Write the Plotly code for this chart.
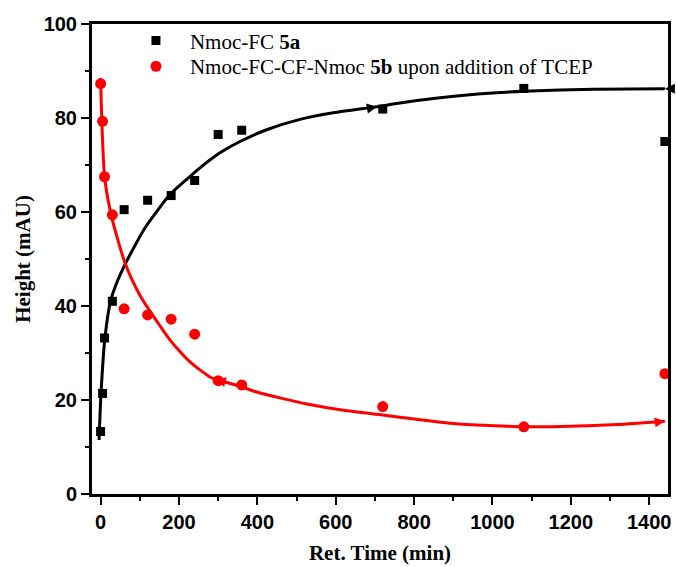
import plotly.graph_objects as go

# data (min, mAU)
t_pts = [0, 5, 10, 30, 60, 120, 180, 240, 300, 360, 720, 1080, 1440]
h_5a = [13.3, 21.4, 33.2, 41.0, 60.5, 62.5, 63.5, 66.7, 76.5, 77.4, 81.9, 86.3, 75.0]
h_5b = [87.3, 79.3, 67.5, 59.4, 39.4, 38.1, 37.2, 34.0, 24.1, 23.2, 18.6, 14.3, 25.6]

# trend curves (drawn in two pieces each, as in the original)
fit_a1_t = [-4, 1, 11, 26, 41, 62, 75, 113, 177, 219, 253.5, 304.6, 355.6, 423.8, 508.8, 593.9, 679, 705]
fit_a1_h = [11.5, 21.4, 33.2, 41.3, 44.9, 48.8, 50.9, 56.6, 63.7, 66.9, 69.4, 72.6, 75.0, 77.5, 79.7, 81.1, 82.1, 82.4]
fit_a2_t = [705, 764, 866, 1000, 1080, 1260, 1440]
fit_a2_h = [82.4, 83.2, 84.3, 85.3, 85.7, 86.1, 86.2]
fit_b1_t = [0, 3, 10, 26.3, 44.2, 62, 80, 100.3, 125.9, 151.4, 176.9, 202.4, 228, 253.5, 279, 294]
fit_b1_h = [88.5, 79.5, 67.5, 59.6, 54.0, 49.2, 45.6, 42.3, 38.9, 35.8, 32.8, 30.3, 28.1, 26.4, 24.9, 24.35]
fit_b2_t = [294, 356, 394, 460, 530, 620, 720, 900, 1080, 1200, 1320, 1440]
fit_b2_h = [24.35, 22.9, 21.8, 20.4, 19.1, 17.8, 16.8, 15.0, 14.3, 14.4, 14.8, 15.5]

fig = go.Figure()
for tt, hh, c in [(fit_a1_t, fit_a1_h, "black"), (fit_a2_t, fit_a2_h, "black"),
                  (fit_b1_t, fit_b1_h, "#ff0000"), (fit_b2_t, fit_b2_h, "#ff0000")]:
    fig.add_trace(go.Scatter(x=tt, y=hh, mode="lines",
                             line=dict(color=c, width=3, shape="spline", smoothing=0.6),
                             showlegend=False, hoverinfo="skip"))
fig.add_trace(go.Scatter(x=t_pts, y=h_5a, mode="markers", name="Nmoc-FC <b>5a</b>", legend="legend",
                         marker=dict(symbol="square", size=9, color="black")))
fig.add_trace(go.Scatter(x=t_pts, y=h_5b, mode="markers", name="Nmoc-FC-CF-Nmoc <b>5b</b> upon addition of TCEP",
                         legend="legend2", marker=dict(symbol="circle", size=11, color="#ff0000")))

# small arrowheads on the curves
arrows = [
    (685, 82.1, 705, 82.4, "black"),
    (1460, 86.2, 1440, 86.2, "black"),
    (314, 23.9, 294, 24.35, "#ff0000"),
    (1420, 15.3, 1440, 15.5, "#ff0000"),
]
for x0, y0, x1, y1, c in arrows:
    fig.add_annotation(x=x1, y=y1, ax=x0, ay=y0, xref="x", yref="y", axref="x", ayref="y",
                       showarrow=True, arrowhead=2, arrowsize=1, arrowwidth=2, arrowcolor=c, text="")

tickfont = dict(family="Liberation Sans, Arial", size=20, color="black", weight="bold")
titlefont = dict(family="Liberation Serif, Times New Roman", size=21, color="black")
legfont = dict(family="Liberation Serif, Times New Roman", size=21, color="black")

fig.update_layout(
    width=676, height=567,
    margin=dict(l=92, r=8, t=24, b=73),
    paper_bgcolor="white", plot_bgcolor="white",
    legend=dict(x=0.052, y=1.008, xanchor="left", yanchor="top", bgcolor="rgba(0,0,0,0)",
                itemwidth=58, font=legfont),
    legend2=dict(x=0.052, y=0.953, xanchor="left", yanchor="top", bgcolor="rgba(0,0,0,0)",
                 itemwidth=58, font=legfont),
    xaxis=dict(range=[-22, 1448], tickvals=[0, 200, 400, 600, 800, 1000, 1200, 1400],
               ticks="outside", ticklen=8, tickwidth=2, tickcolor="black", automargin=False,
               showline=True, linewidth=3, linecolor="black", mirror=True, showgrid=False, zeroline=False,
               tickfont=tickfont,
               minor=dict(dtick=100, tick0=0, ticks="outside", ticklen=4, tickwidth=2, tickcolor="black"),
               title=dict(text="<b>Ret. Time (min)</b>", font=titlefont, standoff=14)),
    yaxis=dict(range=[0, 100], tickvals=[0, 20, 40, 60, 80, 100],
               ticks="outside", ticklen=8, tickwidth=2, tickcolor="black", automargin=False,
               showline=True, linewidth=3, linecolor="black", mirror=True, showgrid=False, zeroline=False,
               tickfont=tickfont,
               minor=dict(dtick=10, tick0=0, ticks="outside", ticklen=4, tickwidth=2, tickcolor="black"),
               title=dict(text="<b>Height (mAU)</b>", font=titlefont, standoff=8)),
)

fig.write_html("out.html")
